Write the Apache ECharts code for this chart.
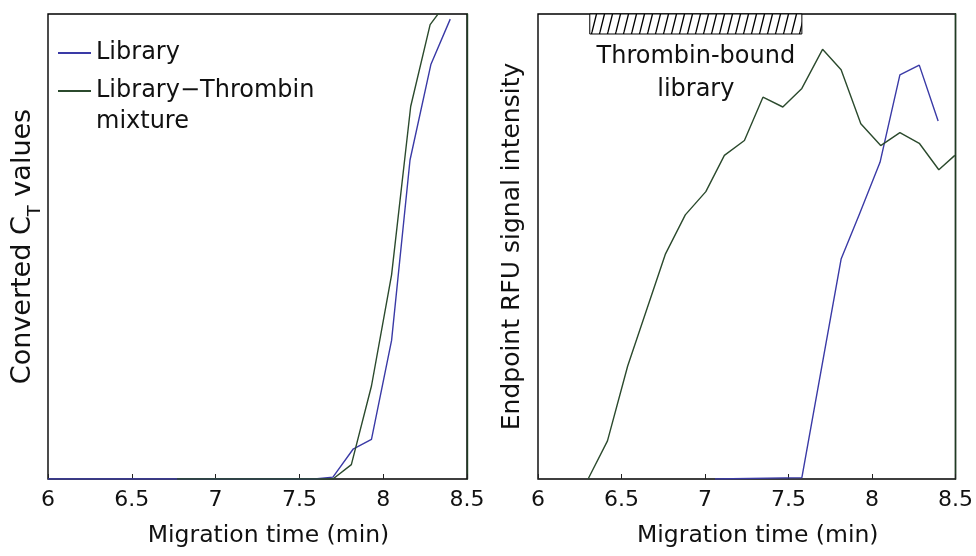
<!DOCTYPE html>
<html><head><meta charset="utf-8">
<script src="https://cdn.jsdelivr.net/npm/echarts@6/dist/echarts.min.js"></script>
<style>html,body{margin:0;padding:0;background:#fff}#c{width:976px;height:556px}</style>
</head><body><div id="c"></div>
<script>
// ---- data ----
const xTicks = [6, 6.5, 7, 7.5, 8, 8.5];
const seriesNames = ['Library', 'Library\u2212Thrombin mixture'];
// left panel: converted CT values (arbitrary units 0-100)
const ctLibrary = [[6.0,0],[6.77,0],[7.12,0],[7.47,0],[7.59,0],[7.70,0.4],[7.82,6.4],[7.93,8.5],[8.05,29.8],[8.16,68.6],[8.285,89.2],[8.40,98.9]];
const ctMixture = [[6.77,0],[7.12,0],[7.47,0],[7.70,0],[7.81,3.1],[7.93,20.0],[8.05,43.9],[8.164,80.1],[8.28,97.7],[8.40,103.5]];
// right panel: endpoint RFU signal intensity (arbitrary units 0-100)
const rfuLibrary = [[7.06,0],[7.58,0.3],[7.815,47.3],[7.925,57.0],[8.048,68.1],[8.167,86.9],[8.283,89.0],[8.396,77.0]];
const rfuMixture = [[6.30,0],[6.416,8.2],[6.537,24.3],[6.762,48.3],[6.882,56.8],[7.005,61.8],[7.116,69.6],[7.236,72.8],[7.347,82.1],[7.466,80.0],[7.580,84.0],[7.704,92.4],[7.815,88.0],[7.933,76.4],[8.052,71.7],[8.167,74.5],[8.283,72.2],[8.40,66.5],[8.496,69.6]];
const boundRange = [6.31, 7.58];
const boundBand = [95.7, 100];
const boundLabel = 'Thrombin-bound\nlibrary';

// ---- styles ----
const FONT = 'DejaVu Sans';
const TXT = '#111';
const BLUE = '#3a3aa6';
const GREEN = '#2b4a2d';

// hatch pattern
const pat = document.createElement('canvas');
pat.width = 8; pat.height = 32;
const g = pat.getContext('2d');
g.fillStyle = '#fff'; g.fillRect(0,0,8,32);
g.strokeStyle = '#000'; g.lineWidth = 1.3;
[-8,0,8].forEach(function(o){ g.beginPath(); g.moveTo(o,32); g.lineTo(o+8,0); g.stroke(); });

const chart = echarts.init(document.getElementById('c'));

function xAx(i){
  return {
    type:'value', gridIndex:i, min:xTicks[0], max:xTicks[xTicks.length-1], interval:0.5,
    axisLine:{show:false},
    axisTick:{show:true, inside:true, length:5, lineStyle:{color:'#222', width:1}},
    axisLabel:{fontSize:22, fontFamily:FONT, color:TXT, margin:10, showMinLabel:true, showMaxLabel:true},
    splitLine:{show:false},
    name:'Migration time (min)', nameLocation:'middle', nameGap:42,
    nameTextStyle:{fontSize:23.5, fontFamily:FONT, color:TXT, lineHeight:30, padding:[0,0,0,22]}
  };
}
function yBase(i){
  return {type:'value', gridIndex:i, min:0, max:100, axisLine:{show:false}, axisTick:{show:false}, axisLabel:{show:false}, splitLine:{show:false}};
}
function yRight(i){
  return {type:'value', gridIndex:i, position:'right', min:0, max:100,
    axisLine:{show:true, lineStyle:{color:'#1f3d22', width:1.4}}, axisTick:{show:false}, axisLabel:{show:false}, splitLine:{show:false}};
}
function lineS(name, data, color, xi, yi){
  return {type:'line', name:name, data:data, xAxisIndex:xi, yAxisIndex:yi, symbol:'none', showSymbol:false,
    lineStyle:{width:1.4, color:color}, itemStyle:{color:color}, clip:true, animation:false, z:3};
}

const yL = yBase(0);
Object.assign(yL, {name:'Converted C{sub|T} values', nameLocation:'middle', nameGap:4,
  nameTextStyle:{fontSize:27, fontFamily:FONT, color:TXT, lineHeight:43,
    rich:{sub:{fontSize:18, fontFamily:FONT, color:TXT, lineHeight:10, verticalAlign:'bottom'}}}});
const yR = yBase(1);
Object.assign(yR, {name:'Endpoint RFU signal intensity', nameLocation:'middle', nameGap:11,
  nameTextStyle:{fontSize:25, fontFamily:FONT, color:TXT, lineHeight:30}});

const mixRight = lineS(seriesNames[1], rfuMixture, GREEN, 1, 1);
mixRight.markArea = {
  silent:true,
  itemStyle:{color:{image:pat, repeat:'repeat'}, opacity:1, borderColor:'#000', borderWidth:1},
  label:{show:true, position:'bottom', distance:6, formatter:boundLabel, fontSize:24, lineHeight:33, fontFamily:FONT, color:TXT},
  data:[[{xAxis:boundRange[0], yAxis:boundBand[0]}, {xAxis:boundRange[1], yAxis:boundBand[1]}]]
};

chart.setOption({
  animation:false,
  backgroundColor:'#fff',
  textStyle:{fontFamily:FONT},
  grid:[
    {left:48, right:509, top:14, bottom:68, show:true, borderColor:'#000', borderWidth:1.4, backgroundColor:'transparent'},
    {left:538, right:19, top:14, bottom:68, show:true, borderColor:'#000', borderWidth:1.4, backgroundColor:'transparent'}
  ],
  xAxis:[xAx(0), xAx(1)],
  yAxis:[yL, yR, yRight(0), yRight(1)],
  legend:{left:53, top:33, orient:'vertical', icon:'rect', itemWidth:33, itemHeight:2, itemGap:8,
    data:seriesNames, selectedMode:false,
    formatter:function(n){ return n.replace(' mixture',''); },
    textStyle:{fontSize:24, fontFamily:FONT, color:TXT, lineHeight:30}},
  graphic:[{type:'text', x:96, y:122, style:{text:'mixture', font:'24px "DejaVu Sans"', fill:TXT, textVerticalAlign:'middle', verticalAlign:'middle'}}],
  series:[
    lineS(seriesNames[0], ctLibrary, BLUE, 0, 0),
    lineS(seriesNames[1], ctMixture, GREEN, 0, 0),
    lineS(seriesNames[0], rfuLibrary, BLUE, 1, 1),
    mixRight
  ]
});
</script></body></html>
